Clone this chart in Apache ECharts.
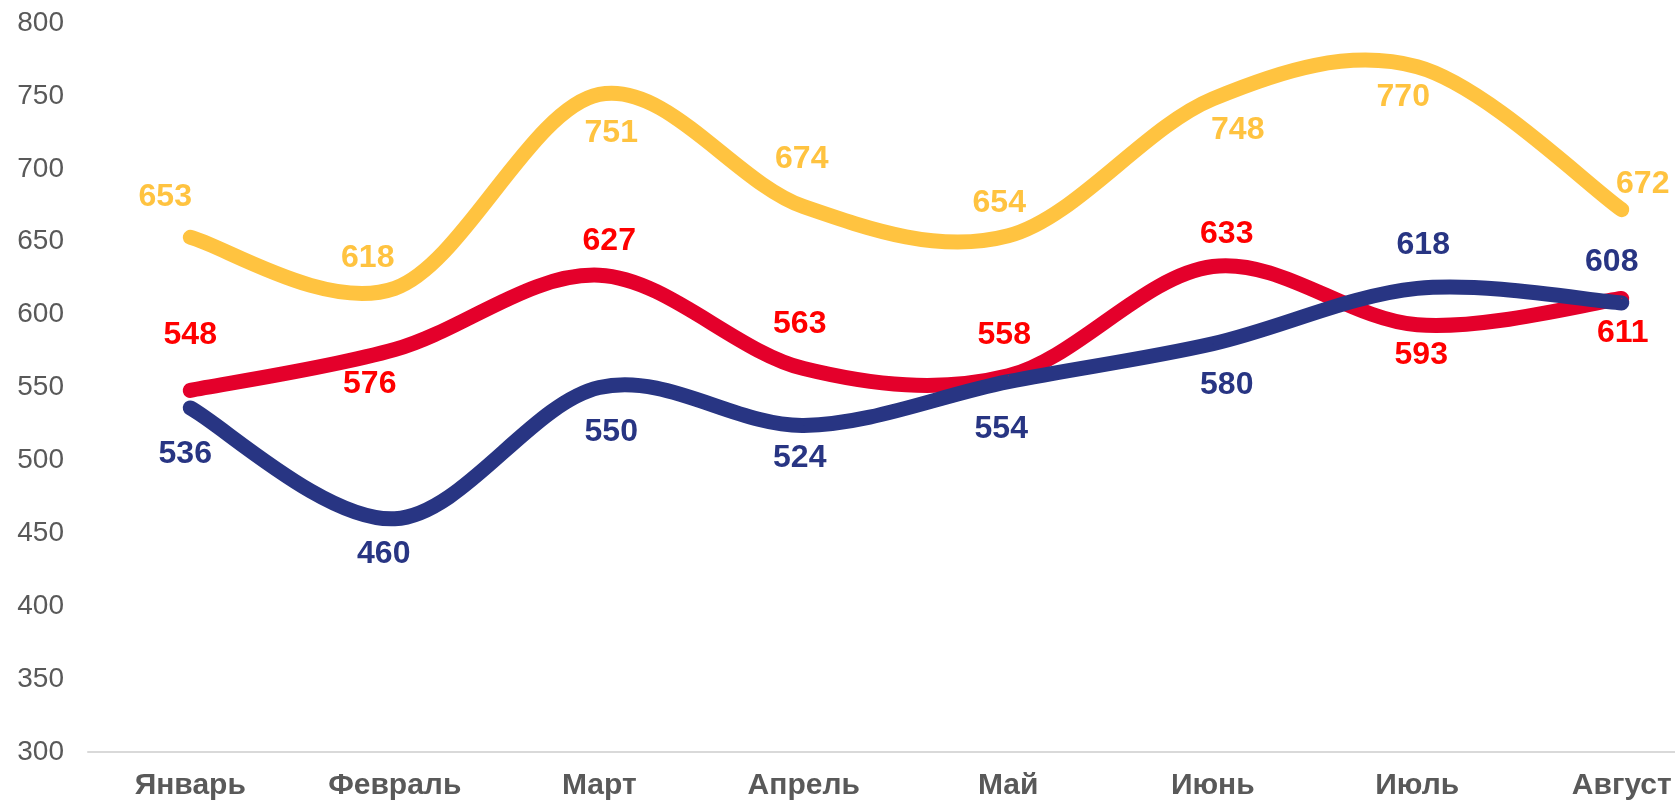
<!DOCTYPE html>
<html>
<head>
<meta charset="utf-8">
<script src="https://cdn.jsdelivr.net/npm/echarts@6/dist/echarts.min.js"></script>
<style>
  html, body { margin: 0; padding: 0; background: #ffffff; }
  #chart { width: 1675px; height: 802px; }
</style>
</head>
<body>
<div id="chart"></div>
<script>
// ---- data ----
const categories = ['Январь', 'Февраль', 'Март', 'Апрель', 'Май', 'Июнь', 'Июль', 'Август'];
const yellowValues = [653, 618, 751, 674, 654, 748, 770, 672];
const redValues    = [548, 576, 627, 563, 558, 633, 593, 611];
const blueValues   = [536, 460, 550, 524, 554, 580, 618, 608];
const yTicks = [300, 350, 400, 450, 500, 550, 600, 650, 700, 750, 800];

// ---- label placement (pixel offsets from each point) ----
const yellowOffsets = [[-25,-40],[-27,-30],[12,39],[-2,-48],[-9,-33],[25,31],[-14,30],[21,-25]];
const redOffsets    = [[0,-55],[-25,35],[10,-34],[-4,-44],[-4,-41],[14,-32],[4,30],[1,35]];
const blueOffsets   = [[-5,46],[-11,35],[12,45],[-4,33],[-7,48],[14,41],[6,-43],[-10,-41]];

const FONT = 'Liberation Sans, Arial, sans-serif';

// Catmull-Rom style smoothing (like a spreadsheet "smoothed line")
function smoothPath(pts) {
  let d = 'M' + pts[0][0] + ',' + pts[0][1];
  for (let i = 0; i < pts.length - 1; i++) {
    const p0 = pts[i - 1] || pts[i];
    const p1 = pts[i];
    const p2 = pts[i + 1];
    const p3 = pts[i + 2] || pts[i + 1];
    const c1x = p1[0] + (p2[0] - p0[0]) / 6, c1y = p1[1] + (p2[1] - p0[1]) / 6;
    const c2x = p2[0] - (p3[0] - p1[0]) / 6, c2y = p2[1] - (p3[1] - p1[1]) / 6;
    d += ' C' + c1x + ',' + c1y + ' ' + c2x + ',' + c2y + ' ' + p2[0] + ',' + p2[1];
  }
  return d;
}

function lineSeries(values, color) {
  return {
    type: 'custom',
    coordinateSystem: 'cartesian2d',
    encode: { x: 0, y: 1 },
    data: values.map((v, i) => [i, v]),
    renderItem: function (params, api) {
      if (params.dataIndex !== 0) return null;
      const pts = values.map((v, i) => api.coord([i, v]));
      return {
        type: 'path',
        shape: { pathData: smoothPath(pts) },
        style: { fill: 'none', stroke: color, lineWidth: 15, lineCap: 'round', lineJoin: 'round' }
      };
    },
    silent: true,
    animation: false
  };
}

function labelSeries(values, offsets, color, labelColor) {
  return {
    type: 'scatter',
    symbol: 'circle',
    symbolSize: 1,
    itemStyle: { color: color, opacity: 1 },
    label: {
      show: true,
      position: 'inside',
      color: labelColor,
      opacity: 1,
      fontFamily: FONT,
      fontWeight: 'bold',
      fontSize: 32
    },
    emphasis: { disabled: true },
    data: values.map((v, i) => ({ value: [i, v], label: { offset: offsets[i] } })),
    z: 5,
    silent: true,
    animation: false
  };
}

const chart = echarts.init(document.getElementById('chart'));
chart.setOption({
  backgroundColor: '#ffffff',
  animation: false,
  grid: { left: 88, top: 23, width: 1636, bottom: 50, containLabel: false, outerBoundsMode: 'none' },
  xAxis: {
    type: 'category',
    data: categories,
    boundaryGap: true,
    axisLine: { show: true, lineStyle: { color: '#d9d9d9', width: 2 } },
    axisTick: { show: false },
    axisLabel: {
      color: '#595959',
      fontFamily: FONT,
      fontWeight: 'bold',
      fontSize: 30,
      margin: 19
    },
    splitLine: { show: false }
  },
  yAxis: {
    type: 'value',
    min: yTicks[0],
    max: yTicks[yTicks.length - 1],
    interval: 50,
    axisLine: { show: false },
    axisTick: { show: false },
    splitLine: { show: false },
    axisLabel: {
      color: '#595959',
      fontFamily: FONT,
      fontSize: 28,
      margin: 24
    }
  },
  series: [
    lineSeries(yellowValues, '#FFC340'),
    lineSeries(redValues, '#E4002B'),
    lineSeries(blueValues, '#283583'),
    labelSeries(yellowValues, yellowOffsets, '#FFC340', '#FFC340'),
    labelSeries(redValues, redOffsets, '#E4002B', '#FF0000'),
    labelSeries(blueValues, blueOffsets, '#283583', '#283583')
  ]
});
</script>
</body>
</html>
